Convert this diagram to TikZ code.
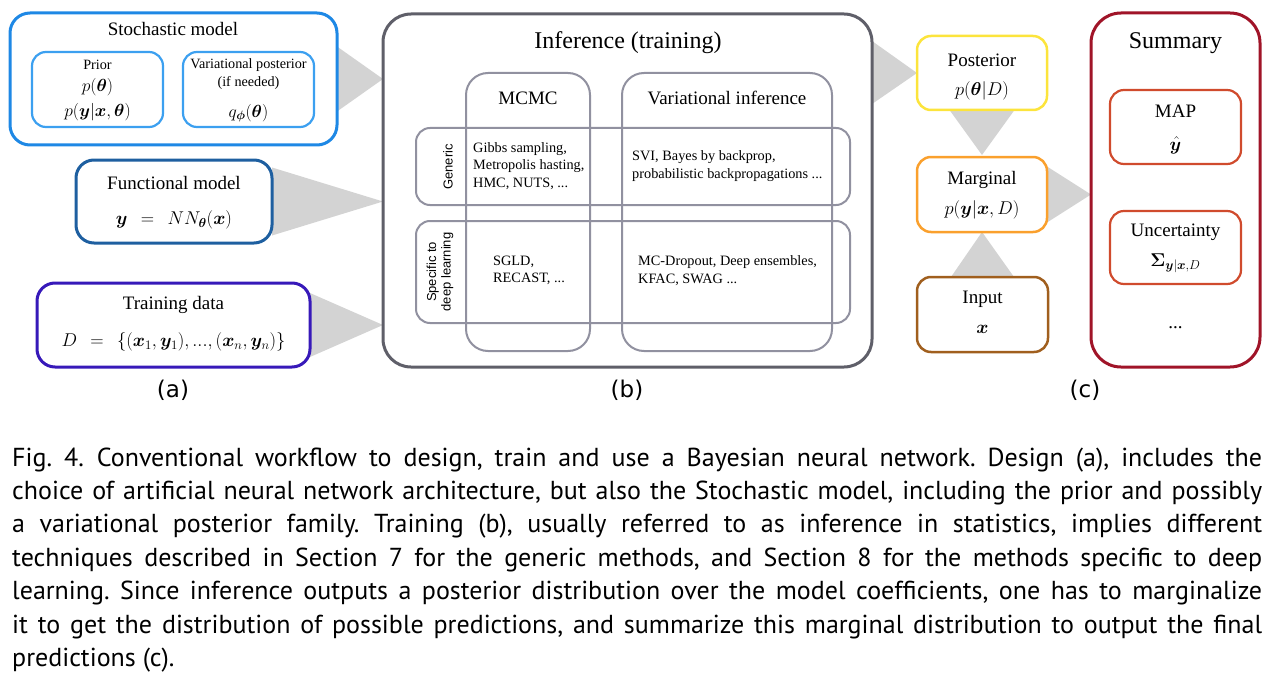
\RequirePackage{fix-cm}
\documentclass[tikz,border=0pt]{standalone}
\usepackage{amsmath}
\usepackage{bm}
\usepackage[no-math]{fontspec}
\setmainfont{Liberation Serif}
\newfontfamily\capfont{PT Sans}
\newfontfamily\lblfont{DejaVu Sans}
\newfontfamily\rotfont{Liberation Sans}
\usetikzlibrary{backgrounds}
\definecolor{cStoch}{RGB}{30,136,229}
\definecolor{cPrior}{RGB}{60,160,240}
\definecolor{cFunc}{RGB}{30,95,160}
\definecolor{cTrain}{RGB}{55,25,185}
\definecolor{cInf}{RGB}{95,95,105}
\definecolor{cCol}{RGB}{145,145,160}
\definecolor{cPost}{RGB}{252,228,60}
\definecolor{cMarg}{RGB}{250,160,45}
\definecolor{cInput}{RGB}{160,95,30}
\definecolor{cSum}{RGB}{160,20,40}
\definecolor{cMap}{RGB}{208,75,45}
\definecolor{cArrow}{RGB}{211,211,211}
\newcommand\fsz[2]{\fontsize{#1}{#2}\selectfont}
\begin{document}
\begin{tikzpicture}[x=1pt,y=-1pt,
  bigbox/.style={draw, fill=white, line width=3pt, inner sep=0pt, outer sep=0pt},
  smallbox/.style={draw, fill=white, line width=2.2pt, inner sep=0pt, outer sep=0pt, rounded corners=14pt},
  grid/.style={draw=cCol, line width=2pt, inner sep=0pt, outer sep=0pt},
  txtA/.style={font=\fsz{19}{23}, inner sep=0pt},
  txtB/.style={font=\fsz{24}{28}, inner sep=0pt},
  txtS/.style={font=\fsz{14.2}{17}, inner sep=0pt},
  mth/.style={font=\fsz{17.5}{20}, inner sep=0pt},
  mthA/.style={font=\fsz{18.5}{22}, inner sep=0pt},
  items/.style={font=\fsz{14.3}{17.5}, align=left, inner sep=0pt, anchor=west},
  rot/.style={font=\rotfont\fsz{13}{14.5}, align=center, rotate=90, inner sep=0pt},
  lbl/.style={font=\lblfont\fsz{23}{27}, inner sep=0pt},
  flow/.style={fill=cArrow, draw=none}
]
\useasboundingbox (0,0) rectangle (1274,690);

% ---------- (a) ----------
\node[bigbox, draw=cStoch, minimum width=327, minimum height=132, rounded corners=20pt] (stoch) at (173.5,79) {};
\node[txtA] (stochT) at (173,29) {Stochastic model};
\node[smallbox, draw=cPrior, minimum width=131, minimum height=75] (prior) at (97.5,89.5) {};
\node[txtS] (priorT) at (97.5,65) {Prior};
\node[mth] (priorM1) at (97.5,87) {$p(\bm{\theta})$};
\node[mth] (priorM2) at (97.5,112) {$p(\bm{y}|\bm{x},\bm{\theta})$};
\node[smallbox, draw=cPrior, minimum width=131, minimum height=75] (varp) at (248.5,89.5) {};
\node[txtS] (varpT1) at (248.5,65) {Variational posterior};
\node[txtS] (varpT2) at (248.5,83) {(if needed)};
\node[mth] (varpM) at (248.5,113) {$q_{\bm{\phi}}(\bm{\theta})$};

\node[bigbox, draw=cFunc, minimum width=196, minimum height=83, rounded corners=18pt] (func) at (174,201.5) {};
\node[txtA] (funcT) at (174,183) {Functional model};
\node[mthA] (funcM) at (174,220) {$\bm{y}\;\,=\;\,NN_{\bm{\theta}}(\bm{x})$};

\node[bigbox, draw=cTrain, minimum width=273, minimum height=84, rounded corners=18pt] (train) at (173.5,325) {};
\node[txtA] (trainT) at (173.5,305) {Training data};
\node[mthA] (trainM) at (173.5,342) {$D\;\,=\;\,\{(\bm{x}_1,\bm{y}_1),...,(\bm{x}_n,\bm{y}_n)\}$};

\node[lbl] (la) at (173,390) {(a)};

% ---------- (b) ----------
\node[bigbox, draw=cInf, minimum width=489, minimum height=353, rounded corners=28pt] (inf) at (627.5,190.5) {};
\node[txtB] (infT) at (628,43) {Inference (training)};
\node[grid, minimum width=124, minimum height=278, rounded corners=22pt] (mcmc) at (528,212) {};
\node[grid, minimum width=210, minimum height=278, rounded corners=22pt] (vi) at (727,212) {};
\node[grid, minimum width=434, minimum height=77, rounded corners=14pt] (gen) at (633,166.5) {};
\node[grid, minimum width=434, minimum height=102, rounded corners=14pt] (spec) at (633,272) {};
\node[txtA] (mcmcT) at (528,98) {MCMC};
\node[txtA] (viT) at (727,98) {Variational inference};
\node[rot] (genT) at (448,167) {Generic};
\node[rot] (specT) at (440,272) {Specific to\\deep learning};
\node[items] (genMC) at (473,166) {Gibbs sampling,\\Metropolis hasting,\\HMC, NUTS, ...};
\node[items] (genVI) at (632,166) {SVI, Bayes by backprop,\\probabilistic backpropagations ...};
\node[items] (specMC) at (493,270.5) {SGLD,\\RECAST, ...};
\node[items] (specVI) at (638,270.5) {MC-Dropout, Deep ensembles,\\KFAC, SWAG ...};

\node[lbl] (lb) at (627,390) {(b)};

% ---------- (c) ----------
\node[smallbox, draw=cPost, line width=2.5pt, minimum width=130, minimum height=74] (post) at (982,73) {};
\node[txtA] (postT) at (982,60) {Posterior};
\node[mthA] (postM) at (982,91) {$p(\bm{\theta}|D)$};
\node[smallbox, draw=cMarg, line width=2.5pt, minimum width=130, minimum height=75] (marg) at (982,194.5) {};
\node[txtA] (margT) at (982,180) {Marginal};
\node[mthA] (margM) at (982,210) {$p(\bm{y}|\bm{x},D)$};
\node[smallbox, draw=cInput, line width=2.5pt, minimum width=131, minimum height=75] (input) at (982.5,314.5) {};
\node[txtA] (inputT) at (982.5,299) {Input};
\node[mthA] (inputM) at (982.5,329) {$\bm{x}$};

\node[bigbox, draw=cSum, minimum width=169, minimum height=354, rounded corners=30pt] (sum) at (1175.5,190) {};
\node[txtB] (sumT) at (1175.5,43) {Summary};
\node[smallbox, draw=cMap, minimum width=131, minimum height=74] (map) at (1175.5,127) {};
\node[txtA] (mapT) at (1175.5,111) {MAP};
\node[mthA, anchor=base] (mapM) at (1175.5,150) {$\hat{\bm{y}}$};
\node[smallbox, draw=cMap, minimum width=131, minimum height=73] (unc) at (1175.5,247.5) {};
\node[txtA] (uncT) at (1175.5,232) {Uncertainty};
\node[mthA] (uncM) at (1175.5,263) {$\bm{\Sigma}_{\bm{y}|\bm{x},D}$};
\node[txtA] (dots) at (1175.5,328) {...};

\node[lbl] (lc) at (1085,390) {(c)};

% ---------- flow triangles ----------
\coordinate (infpost) at (inf.east |- post.west);
\begin{scope}[on background layer]
\fill[flow] ([yshift=-32.5pt]stoch.east) -- ([yshift=32.5pt]stoch.east) -- (inf.west |- stoch.east) -- cycle;
\fill[flow] ([yshift=-34pt]func.east) -- ([yshift=34pt]func.east) -- (inf.west |- func.east) -- cycle;
\fill[flow] ([yshift=-32pt]train.east) -- ([yshift=32pt]train.east) -- (inf.west |- train.east) -- cycle;
\fill[flow] ([yshift=32pt]infpost) -- ([yshift=-31pt]infpost) -- (post.west) -- cycle;
\fill[flow] ([xshift=-32.5pt]post.south) -- ([xshift=32.5pt]post.south) -- ([yshift=2pt]marg.north) -- cycle;
\fill[flow] ([xshift=-31.5pt]input.north) -- ([xshift=31.5pt]input.north) -- (marg.south) -- cycle;
\fill[flow] ([yshift=-28pt]marg.east) -- ([yshift=28pt]marg.east) -- (sum.west |- marg.east) -- cycle;
\end{scope}

% ---------- caption ----------
\node[anchor=base west, text width=1250pt, align=justify, inner sep=0pt,
      font=\capfont\fsz{26}{33.4}] (cap) at (12,466) {\frenchspacing\tolerance=10000\hyphenpenalty=10000
Fig.~4.\hspace{0.5em}Conventional workflow to design, train and use a Bayesian neural network. Design (a), includes the\linebreak
choice of artificial neural network architecture, but also the Stochastic model, including the prior and possibly\linebreak
a variational posterior family. Training (b), usually referred to as inference in statistics, implies different\linebreak
techniques described in Section 7 for the generic methods, and Section 8 for the methods specific to deep\linebreak
learning. Since inference outputs a posterior distribution over the model coefficients, one has to marginalize\linebreak
it to get the distribution of possible predictions, and summarize this marginal distribution to output the final\linebreak
predictions (c).};
\end{tikzpicture}
\end{document}
